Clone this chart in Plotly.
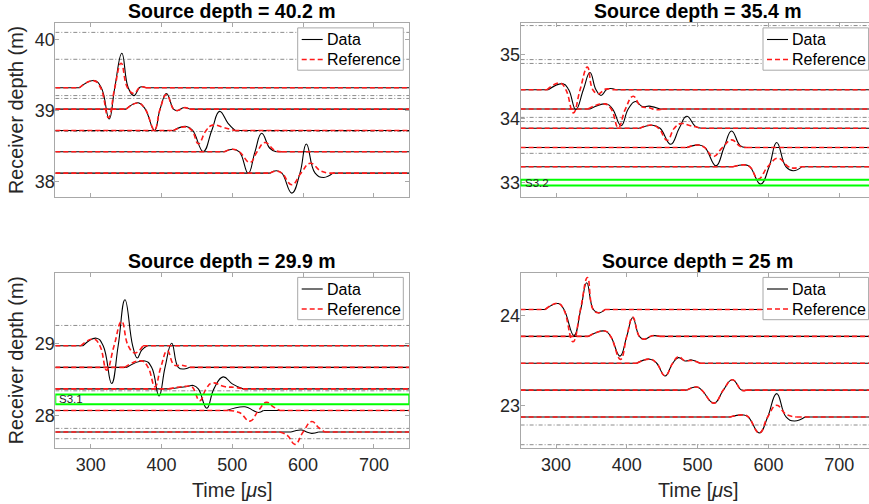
import plotly.graph_objects as go

W, H = 869, 504
FONT = "Liberation Sans, Arial, Helvetica, sans-serif"

TITLES = ["Source depth = 40.2 m", "Source depth = 35.4 m",
          "Source depth = 29.9 m", "Source depth = 25 m"]
X_TICKS = [300, 400, 500, 600, 700]
SERIES_NAMES = ["Data", "Reference"]

# ---------------- Panel 1 : source depth 40.2 m ----------------
P1_RECEIVERS = [39.32, 39.02, 38.72, 38.42, 38.12]
P1_DATA_T = [
    [250, 284, 305, 315, 326, 334, 344, 353, 361, 370, 378, 750],
    [250, 350, 367, 377, 390, 398, 407, 417, 422, 432, 440, 750],
    [250, 417, 435, 444, 459, 471, 482, 494, 504, 750],
    [250, 489, 500, 510, 522.5, 532, 541.5, 553, 562, 750],
    [250, 553, 562.5, 570, 584, 595.6, 604.6, 617, 629, 642, 750],
]
P1_DATA_A = [
    [0, 0, 0.10, 0, -0.44, 0, 0.485, 0, -0.11, 0.01, 0, 0],
    [0, 0, 0.089, 0, -0.30, 0, 0.22, 0, -0.023, 0.023, 0, 0],
    [0, 0, 0.056, 0, -0.296, 0, 0.268, 0.10, 0, 0],
    [0, 0, 0.037, 0, -0.303, 0, 0.26, 0.05, 0, 0],
    [0, 0, 0.033, 0, -0.28, 0, 0.41, 0, -0.06, 0, 0],
]
P1_REF_T = [
    [250, 284, 304, 314, 325, 334, 343, 352, 361, 370, 378, 750],
    [250, 350, 367, 377, 390, 398, 407, 417, 422, 432, 440, 750],
    [250, 417, 433, 443, 452, 463, 472, 490, 503, 750],
    [250, 489, 500, 510, 525, 535, 546, 560, 570, 750],
    [250, 553, 562, 570, 584, 597, 610, 625, 638, 750],
]
P1_REF_A = [
    [0, 0, 0.10, 0, -0.42, 0, 0.345, 0, -0.08, 0.01, 0, 0],
    [0, 0, 0.085, 0, -0.29, 0, 0.205, 0, -0.02, 0.02, 0, 0],
    [0, 0, 0.05, 0, -0.186, 0, 0.075, 0.035, 0, 0],
    [0, 0, 0.037, 0, -0.15, 0, 0.13, 0.02, 0, 0],
    [0, 0, 0.03, 0, -0.163, 0, 0.14, 0.03, 0, 0],
]
P1_GRAY = [40.098, 39.72, 39.21, 39.17, 38.705]

# ---------------- Panel 2 : source depth 35.4 m ----------------
P2_RECEIVERS = [34.45, 34.15, 33.85, 33.55, 33.25]
P2_DATA_T = [
    [250, 289, 310, 318, 328, 338.6, 348, 356.5, 363.6, 371, 376, 385, 750],
    [250, 348, 371.6, 380, 392, 402, 412, 422, 432, 447, 750],
    [250, 418, 436.5, 447, 462, 474, 484.6, 497, 506, 750],
    [250, 485, 502.4, 510.5, 526, 537.3, 548, 560, 568, 750],
    [250, 550, 567, 574, 589, 601, 611.7, 624.9, 635, 647, 750],
]
P2_DATA_A = [
    [0, 0, 0.093, 0, -0.31, 0, 0.27, 0, -0.088, 0, 0.02, 0, 0],
    [0, 0, 0.078, 0, -0.26, 0, 0.118, 0.04, 0.045, 0, 0],
    [0, 0, 0.047, 0, -0.249, 0, 0.187, 0.03, 0, 0],
    [0, 0, 0.041, 0, -0.285, 0, 0.259, 0.03, 0, 0],
    [0, 0, 0.031, 0, -0.27, 0, 0.378, 0, -0.062, 0, 0],
]
P2_REF_T = [
    [250, 287, 305.6, 314, 324.5, 334, 344.3, 352, 359.8, 370, 380, 750],
    [250, 345, 369, 378, 388, 398, 409, 420, 432, 440, 450, 750],
    [250, 418, 434, 445, 457, 467, 476, 490, 505, 750],
    [250, 485, 501, 510, 522, 535, 548, 560, 570, 750],
    [250, 550, 566, 574, 585.7, 599, 614, 627, 635, 645, 750],
]
P2_REF_A = [
    [0, 0, 0.104, 0, -0.36, 0, 0.352, 0, -0.062, 0.01, 0, 0],
    [0, 0, 0.08, 0, -0.29, 0, 0.2, 0.04, 0.02, -0.01, 0, 0],
    [0, 0, 0.05, 0, -0.187, 0, 0.073, 0.04, 0, 0],
    [0, 0, 0.04, 0, -0.14, 0, 0.119, 0.02, 0, 0],
    [0, 0, 0.03, 0, -0.19, 0, 0.135, 0.01, -0.02, 0, 0],
]
P2_GRAY = [35.45, 34.92, 34.86, 34.02, 33.955, 33.46]

# ---------------- Panel 3 : source depth 29.9 m ----------------
P3_RECEIVERS = [28.97, 28.67, 28.37, 28.07, 27.77]
P3_DATA_T = [
    [250, 289, 308, 317.6, 329.5, 338.8, 348.4, 359.3, 365.8, 372, 380, 750],
    [250, 351, 376.7, 386, 396.5, 405, 414.4, 423.7, 431.8, 440, 750],
    [250, 410, 436, 445, 452, 464, 474, 487, 500, 515, 750],
    [250, 492, 517.9, 529.6, 536.7, 544, 750],
    [250, 583, 597.6, 605, 612, 622, 750],
]
P3_DATA_A = [
    [0, 0, 0.105, 0, -0.525, 0, 0.64, 0, -0.17, -0.06, 0, 0],
    [0, 0, 0.089, 0, -0.40, 0, 0.336, 0, -0.023, 0, 0],
    [0, 0, 0.033, 0.047, 0, -0.27, 0, 0.167, 0.07, 0, 0],
    [0, 0, 0.051, 0, -0.028, 0, 0],
    [0, 0, 0.028, 0, -0.019, 0, 0],
]
P3_REF_T = [
    [250, 286, 304, 313, 322.6, 333, 343.7, 353, 362.4, 374, 750],
    [250, 348, 372, 381, 390.8, 399, 408.2, 418, 428, 440, 750],
    [250, 410, 434, 443, 454, 463, 471, 490, 505, 515, 750],
    [250, 495, 510, 525, 537, 548.2, 558, 567, 750],
    [250, 567, 578, 588.6, 600, 612.2, 622, 630.6, 750],
]
P3_REF_A = [
    [0, 0, 0.095, 0, -0.34, 0, 0.34, 0, -0.10, 0, 0],
    [0, 0, 0.09, 0, -0.27, 0, 0.23, 0.03, 0.03, 0, 0],
    [0, 0, 0.035, 0.03, -0.165, 0, 0.08, 0.03, 0.02, 0, 0],
    [0, 0, -0.03, -0.149, 0, 0.112, 0.05, 0, 0],
    [0, 0, -0.05, -0.172, 0, 0.145, 0.06, 0, 0],
]
P3_GRAY = [29.253, 28.343, 27.82, 27.676]

# ---------------- Panel 4 : source depth 25 m ----------------
P4_RECEIVERS = [24.07, 23.77, 23.47, 23.17, 22.87]
P4_DATA_T = [
    [250, 284.5, 303.3, 311.3, 325.4, 334.9, 343.4, 352.7, 359.8, 369, 750],
    [250, 345.6, 369.2, 377.2, 390.4, 399.9, 408.3, 417.7, 424.3, 436, 447, 750],
    [250, 414, 432.8, 442.2, 454, 464.8, 472.8, 482.2, 491.6, 503.4, 750],
    [250, 484.6, 498.7, 505.8, 523.2, 536.3, 549, 562.3, 569.3, 750],
    [250, 545.7, 564.5, 571.6, 587.2, 599, 611.7, 624.9, 636.6, 651.7, 750],
]
P4_DATA_A = [
    [0, 0, 0.067, 0, -0.291, 0, 0.299, 0, -0.037, 0, 0],
    [0, 0, 0.06, 0, -0.22, 0, 0.209, 0, -0.034, 0.007, 0, 0],
    [0, 0, 0.045, 0, -0.142, 0, 0.063, 0.026, 0.037, 0, 0],
    [0, 0, 0.034, 0, -0.146, 0, 0.116, 0, 0, 0],
    [0, 0, 0.022, 0, -0.179, 0, 0.261, 0, -0.045, 0, 0],
]
P4_REF_T = [
    [250, 284.5, 303, 311, 324, 334.5, 344.5, 352.5, 360, 369, 750],
    [250, 345.6, 369.2, 377.2, 391, 399.9, 408.3, 417.7, 424.3, 436, 447, 750],
    [250, 414, 432.8, 442.2, 454, 464.8, 472.8, 482.2, 491.6, 503.4, 750],
    [250, 484.6, 498.7, 505.8, 523.2, 536.3, 549, 562.3, 569.3, 750],
    [250, 545.7, 564.5, 571.6, 587.2, 599, 611.7, 624.9, 640, 750],
]
P4_REF_A = [
    [0, 0, 0.07, 0, -0.36, 0, 0.358, 0, -0.035, 0, 0],
    [0, 0, 0.06, 0, -0.257, 0, 0.215, 0, -0.03, 0.007, 0, 0],
    [0, 0, 0.045, 0, -0.14, 0, 0.075, 0.026, 0.03, 0, 0],
    [0, 0, 0.034, 0, -0.146, 0, 0.116, 0, 0, 0],
    [0, 0, 0.022, 0, -0.18, 0, 0.131, 0.03, 0, 0],
]
P4_GRAY = [22.78, 22.56]

# Highlighted layers (green boxes): (panel index, label, bottom, top)
LAYERS = [(1, "S3.2", 32.96, 33.05), (2, "S3.1", 28.157, 28.29)]

PANELS = [
    (P1_RECEIVERS, P1_DATA_T, P1_DATA_A, P1_REF_T, P1_REF_A, P1_GRAY),
    (P2_RECEIVERS, P2_DATA_T, P2_DATA_A, P2_REF_T, P2_REF_A, P2_GRAY),
    (P3_RECEIVERS, P3_DATA_T, P3_DATA_A, P3_REF_T, P3_REF_A, P3_GRAY),
    (P4_RECEIVERS, P4_DATA_T, P4_DATA_A, P4_REF_T, P4_REF_A, P4_GRAY),
]

# ---------------- layout geometry (pixels) ----------------
PX_PER_US = 354.0 / 500.0
LEFT_X0, LEFT_X1 = 55.3, 409.3
RIGHT_X0 = 520.6
TOP_Y0, TOP_Y1 = 23.0, 197.0
BOT_Y0, BOT_Y1 = 272.5, 448.0
Y_RANGES = [[37.785, 40.23], [32.78, 35.49], [27.547, 29.99], [22.523, 24.484]]
RIGHT_XMAX = 250 + (W - RIGHT_X0) / PX_PER_US
RIGHT_X1 = RIGHT_X0 + 500 * PX_PER_US       # virtual right edge (cropped)
RIGHT_CENTER = (RIGHT_X0 + RIGHT_X1) / 2
LEFT_CENTER = (LEFT_X0 + LEFT_X1) / 2

AXIS_COLOR = "#a8a8a8"
TEXT_COLOR = "#262626"
BLACK_LINE = dict(color="black", width=1.1)
RED_LINE = dict(color="#ff1a1a", width=1.6, dash="5px,3px")


def px(x):
    return x / W


def py(y):
    return 1 - y / H


def wave_xy(receivers, ts, amps):
    """Wavelet part (between the first and last sample of the flat baseline)."""
    xs, ys = [], []
    for r, t, a in zip(receivers, ts, amps):
        xs += list(t[1:-1]) + [None]
        ys += [r + v for v in a[1:-1]] + [None]
    return xs, ys


def flat_xy(receivers, ts, amps):
    """Flat baseline before and after each wavelet."""
    xs, ys = [], []
    for r, t, a in zip(receivers, ts, amps):
        xs += [t[0], t[1], None, t[-2], t[-1], None]
        ys += [r + a[0], r + a[1], None, r + a[-2], r + a[-1], None]
    return xs, ys


fig = go.Figure()

for i, (rec, dt, da, rt, ra, gray) in enumerate(PANELS):
    sx = "" if i == 0 else str(i + 1)
    xa, ya = "x" + sx, "y" + sx
    gx, gy = [], []
    for g in gray:
        gx += [250, 750, None]
        gy += [g, g, None]
    fig.add_trace(go.Scatter(x=gx, y=gy, mode="lines", xaxis=xa, yaxis=ya,
                             line=dict(color="#8c8c8c", width=1, dash="4px,2px,1px,2px"),
                             showlegend=False, hoverinfo="skip"))
    for name, ts, amps, style in [(SERIES_NAMES[0], dt, da, BLACK_LINE),
                                  (SERIES_NAMES[1], rt, ra, RED_LINE)]:
        x, y = flat_xy(rec, ts, amps)
        fig.add_trace(go.Scatter(x=x, y=y, mode="lines", name=name, xaxis=xa, yaxis=ya,
                                 legendgroup=name + sx, showlegend=False,
                                 line=dict(**style)))
        x, y = wave_xy(rec, ts, amps)
        fig.add_trace(go.Scatter(x=x, y=y, mode="lines", name=name, xaxis=xa, yaxis=ya,
                                 legendgroup=name + sx, showlegend=False,
                                 line=dict(shape="spline", smoothing=1.3, **style)))

layout = dict(
    width=W, height=H,
    margin=dict(l=0, r=0, t=0, b=0, autoexpand=False),
    paper_bgcolor="white", plot_bgcolor="white",
    font=dict(family=FONT, color=TEXT_COLOR),
    showlegend=False,
)

for i in range(4):
    sx = "" if i == 0 else str(i + 1)
    left = i % 2 == 0
    top = i < 2
    xdom = [px(LEFT_X0), px(LEFT_X1)] if left else [px(RIGHT_X0), 1.0]
    ydom = [py(TOP_Y1), py(TOP_Y0)] if top else [py(BOT_Y1), py(BOT_Y0)]
    layout["xaxis" + sx] = dict(
        domain=xdom, range=[250, 750] if left else [250, RIGHT_XMAX],
        anchor="y" + sx, tickvals=X_TICKS, showticklabels=not top,
        ticks="inside", ticklen=4, tickcolor=AXIS_COLOR, showline=True,
        linecolor=AXIS_COLOR, linewidth=1, mirror="ticks", showgrid=False,
        zeroline=False, tickfont=dict(size=18, color=TEXT_COLOR, family=FONT),
    )
    layout["yaxis" + sx] = dict(
        domain=ydom, range=Y_RANGES[i], anchor="x" + sx, dtick=1, tick0=0,
        ticks="inside", ticklen=4, tickcolor=AXIS_COLOR, showline=True,
        linecolor=AXIS_COLOR, linewidth=1, mirror="ticks" if left else False,
        showgrid=False, zeroline=False,
        tickfont=dict(size=18, color=TEXT_COLOR, family=FONT),
        ticklabelstandoff=-4,
    )

fig.update_layout(**layout)

annotations = []
shapes = []

# titles and axis labels
centers = [LEFT_CENTER, RIGHT_CENTER, LEFT_CENTER, RIGHT_CENTER]
title_y = [11, 11, 261, 261]
for i in range(4):
    annotations.append(dict(text="<b>" + TITLES[i] + "</b>", xref="paper", yref="paper",
                            x=px(centers[i]), y=py(title_y[i]), xanchor="center", yanchor="middle",
                            showarrow=False, font=dict(size=19.5, color="black", family=FONT)))
for yc in [(TOP_Y0 + TOP_Y1) / 2, (BOT_Y0 + BOT_Y1) / 2]:
    annotations.append(dict(text="Receiver depth (m)", xref="paper", yref="paper",
                            x=px(16), y=py(yc), xanchor="center", yanchor="middle",
                            textangle=-90, showarrow=False,
                            font=dict(size=19.8, color=TEXT_COLOR, family=FONT)))
for xc in [LEFT_CENTER, RIGHT_CENTER]:
    annotations.append(dict(text="Time [<i>μ</i>s]", xref="paper", yref="paper",
                            x=px(xc), y=py(490), xanchor="center", yanchor="middle",
                            showarrow=False, font=dict(size=19.8, color=TEXT_COLOR, family=FONT)))

# legend boxes (one per panel, MATLAB style)
LEG_W, LEG_H = 105.6, 42.3
for i in range(4):
    left = i % 2 == 0
    top = i < 2
    x1 = (LEFT_X1 if left else RIGHT_X1) - 6
    x0 = x1 - LEG_W
    y0 = (TOP_Y0 if top else BOT_Y0) + 4.9
    shapes.append(dict(type="rect", xref="paper", yref="paper", x0=px(x0), x1=px(x1),
                       y0=py(y0), y1=py(y0 + LEG_H), fillcolor="white",
                       line=dict(color=AXIS_COLOR, width=1), layer="above"))
    for k, (name, style) in enumerate([(SERIES_NAMES[0], BLACK_LINE), (SERIES_NAMES[1], RED_LINE)]):
        yc = y0 + 11.6 + 20 * k
        shapes.append(dict(type="line", xref="paper", yref="paper", x0=px(x0 + 4), x1=px(x0 + 25),
                           y0=py(yc), y1=py(yc), line=dict(**style), layer="above"))
        annotations.append(dict(text=name, xref="paper", yref="paper", x=px(x0 + 27.3), y=py(yc),
                                xanchor="left", yanchor="middle", showarrow=False,
                                font=dict(size=16, color="black", family=FONT)))

# green layer boxes
for pi, label, y0, y1 in LAYERS:
    sx = "" if pi == 0 else str(pi + 1)
    shapes.append(dict(type="rect", xref="x" + sx, yref="y" + sx, x0=250, x1=750,
                       y0=y0, y1=y1, line=dict(color="#00ff00", width=2),
                       fillcolor="rgba(0,0,0,0)", layer="above"))
    annotations.append(dict(text=label, xref="x" + sx, yref="y" + sx, x=253,
                            y=(y0 + y1) / 2, xanchor="left", yanchor="middle",
                            showarrow=False, font=dict(size=11.5, color=TEXT_COLOR, family=FONT)))

fig.update_layout(annotations=annotations, shapes=shapes)
fig.write_html("out.html")
